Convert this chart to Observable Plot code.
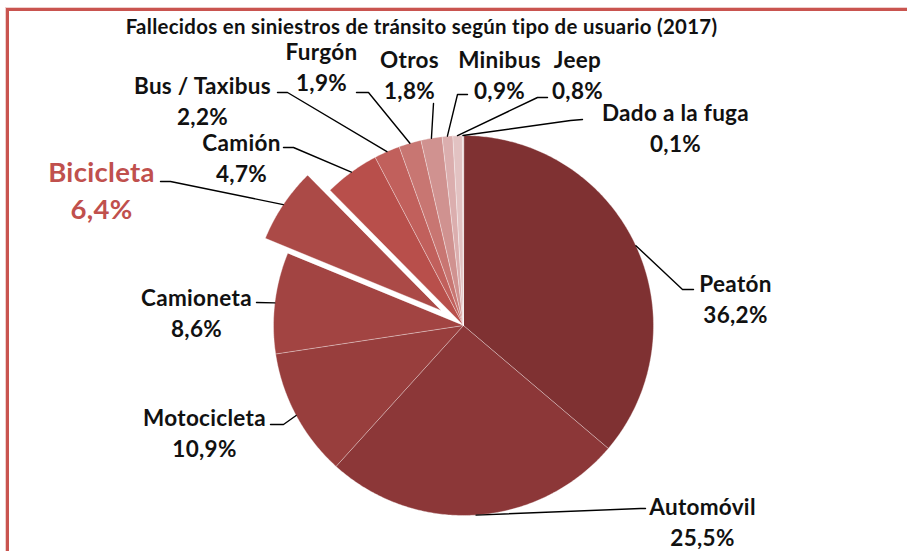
<!DOCTYPE html>
<html>
<head>
<meta charset="utf-8">
<script src="https://cdn.jsdelivr.net/npm/d3@7"></script>
<script src="https://cdn.jsdelivr.net/npm/@observablehq/plot@0.6"></script>
<style>
  body { margin: 0; background: #fff; overflow: hidden; }
  #wrap { position: relative; width: 907px; height: 551px; overflow: hidden; background: #fff; }
  #frame { position: absolute; left: 6px; top: 8px; width: 1200px; height: 1200px;
           border-left: 3px solid #c9544f; border-top: 3px solid #c9544f;
           box-shadow: -1px -1px 0 #f0cfcd; }
  #wrap svg { position: absolute; left: 0; top: 0; }
  #wrap svg text { letter-spacing: 0.3px; }
</style>
</head>
<body>
<div id="wrap"><div id="frame"></div></div>
<script>
// ---- data ----
const title = "Fallecidos en siniestros de tránsito según tipo de usuario (2017)";
const categories = ["Peatón", "Automóvil", "Motocicleta", "Camioneta", "Bicicleta", "Camión",
                    "Bus / Taxibus", "Furgón", "Otros", "Minibus", "Jeep", "Dado a la fuga"];
const values = [36.2, 25.5, 10.9, 8.6, 6.4, 4.7, 2.2, 1.9, 1.8, 0.9, 0.8, 0.1];
const highlighted = "Bicicleta";

// ---- styles / layout (not data) ----
const colors = ["#7f3132", "#8c3738", "#983e3d", "#a24442", "#ab4a47", "#b84f4b",
                "#c1605c", "#c87672", "#d09290", "#dbaeae", "#e2c2c2", "#ead3d3"];
const cx = 463, cy = 325, R = 190, explode = 27;
const font = "Lato, 'Open Sans', sans-serif";
// label centre (x, y of name line), leader elbow points
const labelLayout = {
  "Peatón":        {x: 735, y: 284, elbow: [[682, 289], [693, 289]]},
  "Automóvil":     {x: 702, y: 507, elbow: [[640, 508], [645, 508]]},
  "Motocicleta":   {x: 204, y: 418, elbow: [[283, 424], [270, 424]]},
  "Camioneta":     {x: 196, y: 298, elbow: [[256, 302]]},
  "Bicicleta":     {x: 101, y: 173, elbow: [[170, 181], [160, 181]]},
  "Camión":        {x: 241, y: 143, elbow: [[293, 147], [283, 147]]},
  "Bus / Taxibus": {x: 202, y: 86,  elbow: [[287, 92], [277, 92]]},
  "Furgón":        {x: 321, y: 52,  elbow: [[368, 92], [356, 92]]},
  "Otros":         {x: 409, y: 60,  elbow: [[433, 103]]},
  "Minibus":       {x: 499, y: 60,  elbow: [[457, 94], [467, 94]]},
  "Jeep":          {x: 577, y: 60,  elbow: [[537, 97], [547, 97]]},
  "Dado a la fuga":{x: 675, y: 113, elbow: [[570, 120], [582, 119]]}
};

// ---- geometry from data ----
const arcs = d3.pie().sort(null).value((d, i) => values[i])(categories);
const pt = (a, r, ox = 0, oy = 0) => [cx + ox + r * Math.sin(a), cy + oy - r * Math.cos(a)];
const slicePts = [];
const leaderPts = [];
const labels = [];
arcs.forEach((a, i) => {
  const name = categories[i];
  const mid = (a.startAngle + a.endAngle) / 2;
  const off = name === highlighted ? explode : 0;
  const ox = off * Math.sin(mid), oy = -off * Math.cos(mid);
  slicePts.push({name, x: cx + ox, y: cy + oy});
  const n = Math.max(2, Math.ceil((a.endAngle - a.startAngle) / 0.01));
  for (let k = 0; k <= n; k++) {
    const ang = a.startAngle + (a.endAngle - a.startAngle) * k / n;
    const [x, y] = pt(ang, R, ox, oy);
    slicePts.push({name, x, y});
  }
  const L = labelLayout[name];
  const [ax, ay] = pt(mid, R + off);
  leaderPts.push({name, x: ax, y: ay});
  L.elbow.forEach(([x, y]) => leaderPts.push({name, x, y}));
  const big = name === highlighted;
  labels.push({name, x: L.x, y: L.y, text: name, big});
  labels.push({name, x: L.x, y: L.y + (big ? 37 : 31), text: values[i].toFixed(1).replace(".", ",") + "%", big});
});

const chart = Plot.plot({
  width: 907, height: 551, margin: 0,
  x: {domain: [0, 907], range: [0, 907], axis: null},
  y: {domain: [0, 551], range: [0, 551], axis: null},
  color: {domain: categories, range: colors},
  style: {background: "transparent"},
  marks: [
    Plot.line(slicePts, {x: "x", y: "y", z: "name", fill: "name", stroke: "#ffffff",
      strokeOpacity: 0.45, strokeWidth: 0.8, curve: "linear-closed"}),
    Plot.line(leaderPts, {x: "x", y: "y", z: "name", stroke: "#000", strokeWidth: 1.4}),
    Plot.text(labels.filter(d => !d.big), {x: "x", y: "y", text: "text", fontSize: 22.5,
      fontWeight: "bold", fontFamily: font, fill: "#111"}),
    Plot.text(labels.filter(d => d.big), {x: "x", y: "y", text: "text", fontSize: 27.5,
      fontWeight: "bold", fontFamily: font, fill: "#c0504d"}),
    Plot.text([title], {x: () => 421, y: () => 27, text: d => d, fontSize: 20.4,
      fontWeight: "bold", fontFamily: font, fill: "#111"})
  ]
});
document.getElementById("wrap").appendChild(chart);
</script>
</body>
</html>
